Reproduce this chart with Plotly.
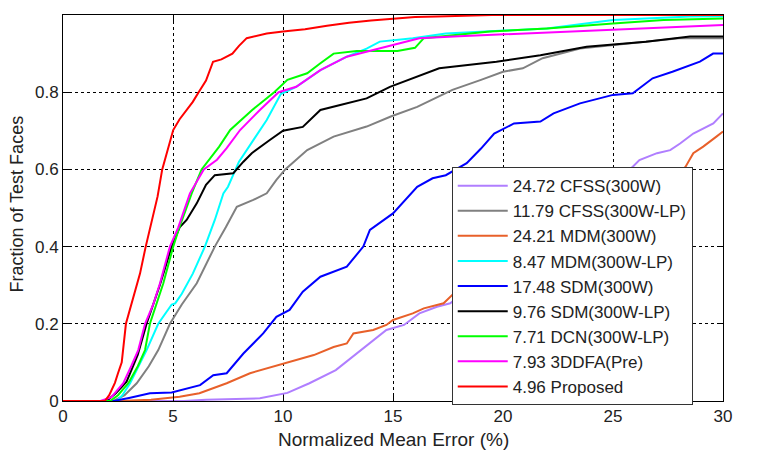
import plotly.graph_objects as go

# CED curves (x = NME %, y = fraction of faces)
cfss_300w_x = [0, 5.5, 6.5, 8.95, 10.2, 11.2, 12.4, 13.35, 13.95, 14.7, 15.5, 16.2, 17.0, 17.6,
               20, 22, 24, 25.9, 26.2, 27.0, 27.6, 28.05, 28.65, 29.56, 30]
cfss_300w_y = [0, 0, 0.003, 0.007, 0.021, 0.046, 0.08, 0.123, 0.149, 0.184, 0.197, 0.227, 0.244, 0.253,
               0.36, 0.45, 0.53, 0.607, 0.624, 0.642, 0.65, 0.667, 0.693, 0.719, 0.745]

cfss_lp_x = [0, 2.3, 2.8, 3.35, 3.9, 4.33, 4.86, 5.4, 6.08, 6.9, 7.4, 7.9, 8.65, 9.26, 9.7, 10.1,
             11.1, 12.3, 13.8, 14.9, 16.1, 17.7, 19.0, 20.0, 20.9, 21.8, 23.5, 25, 26.5, 28, 30]
cfss_lp_y = [0, 0, 0.015, 0.046, 0.09, 0.132, 0.2, 0.25, 0.305, 0.4, 0.45, 0.503, 0.521, 0.538, 0.573, 0.6,
             0.65, 0.685, 0.711, 0.737, 0.762, 0.806, 0.832, 0.853, 0.862, 0.888, 0.913, 0.922, 0.931, 0.94, 0.94]

mdm_300w_x = [0, 2.5, 4.0, 5.3, 6.2, 7.44, 8.5, 9.56, 10.5, 11.4, 12.3, 12.9, 13.2, 14.1, 14.7, 15.0,
              15.9, 16.4, 17.3, 17.7, 20, 22, 24, 26, 27.5, 28.3, 28.65, 29.1, 29.7, 30]
mdm_300w_y = [0, 0, 0.003, 0.011, 0.02, 0.046, 0.072, 0.089, 0.106, 0.119, 0.14, 0.149, 0.175, 0.184, 0.197, 0.21,
              0.227, 0.24, 0.253, 0.275, 0.34, 0.40, 0.46, 0.52, 0.57, 0.607, 0.642, 0.659, 0.685, 0.698]

mdm_lp_x = [0, 2.44, 2.7, 3.05, 3.8, 4.33, 4.94, 5.1, 5.4, 5.9, 6.45, 6.9, 7.29, 7.5, 8.0, 8.35, 9.26,
            9.9, 10.6, 11.7, 12.9, 13.8, 14.4, 15.9, 17.4, 22, 23.8, 25, 28.5, 30]
mdm_lp_y = [0, 0, 0.015, 0.046, 0.132, 0.2, 0.25, 0.253, 0.278, 0.33, 0.4, 0.469, 0.538, 0.555, 0.62, 0.65, 0.728,
            0.795, 0.814, 0.857, 0.892, 0.913, 0.931, 0.94, 0.952, 0.965, 0.978, 0.987, 0.996, 0.997]

sdm_300w_x = [0, 2.3, 3.0, 3.95, 4.94, 5.5, 6.23, 6.83, 7.44, 8.2, 9.1, 9.7, 10.3, 10.9, 11.7, 12.9, 13.65,
              13.95, 14.56, 15.0, 16.1, 16.8, 17.4, 18.35, 19.0, 19.6, 20.5, 21.7, 22.3, 23.5, 25, 25.9,
              26.8, 27.7, 28.95, 29.55, 30]
sdm_300w_y = [0, 0, 0.008, 0.02, 0.022, 0.03, 0.041, 0.067, 0.072, 0.123, 0.175, 0.218, 0.236, 0.283, 0.322, 0.348, 0.4,
              0.443, 0.469, 0.486, 0.555, 0.577, 0.585, 0.616, 0.654, 0.693, 0.719, 0.724, 0.745, 0.771, 0.793, 0.797,
              0.836, 0.853, 0.879, 0.9, 0.9]

sdm_lp_x = [0, 1.98, 2.4, 2.89, 3.4, 3.8, 4.4, 4.94, 5.3, 5.62, 6.08, 6.5, 6.9, 7.74, 8.2, 8.58, 9.4, 10.0,
            10.9, 11.7, 12.6, 13.8, 14.86, 15.9, 17.1, 19.7, 21.7, 23.8, 26.5, 28.5, 30]
sdm_lp_y = [0, 0, 0.02, 0.05, 0.12, 0.2, 0.3, 0.4, 0.45, 0.469, 0.512, 0.56, 0.585, 0.59, 0.62, 0.642, 0.676, 0.70,
            0.71, 0.754, 0.767, 0.784, 0.814, 0.836, 0.862, 0.879, 0.896, 0.918, 0.931, 0.944, 0.944]

dcn_x = [0, 2.14, 2.5, 2.97, 3.4, 3.73, 3.95, 4.56, 5.01, 5.29, 5.85, 6.3, 7.1, 7.6, 8.6, 9.6, 10.2, 11.1,
         11.7, 12.3, 13.35, 15.2, 16.0, 16.4, 19.4, 22, 25, 27.3, 30]
dcn_y = [0, 0, 0.015, 0.046, 0.09, 0.132, 0.2, 0.305, 0.4, 0.45, 0.538, 0.6, 0.659, 0.702, 0.754, 0.80, 0.832, 0.849,
         0.875, 0.9, 0.907, 0.907, 0.915, 0.94, 0.957, 0.965, 0.978, 0.987, 0.991]

ddfa_x = [0, 1.7, 2.2, 2.74, 3.1, 3.42, 3.73, 4.1, 4.41, 4.86, 5.24, 5.77, 6.4, 7.0, 7.44, 8.05, 8.95, 9.8,
          10.6, 11.7, 12.9, 13.8, 15, 16.2, 18, 20, 23.5, 26.5, 30]
ddfa_y = [0, 0, 0.01, 0.046, 0.09, 0.132, 0.2, 0.25, 0.305, 0.4, 0.45, 0.538, 0.6, 0.625, 0.655, 0.702, 0.754, 0.8,
          0.814, 0.857, 0.892, 0.905, 0.922, 0.94, 0.945, 0.95, 0.957, 0.965, 0.974]

proposed_x = [0, 1.9, 2.1, 2.36, 2.5, 2.67, 2.86, 3.2, 3.5, 3.76, 4.03, 4.3, 4.51, 4.8, 5.01, 5.3, 5.55, 5.9,
              6.18, 6.5, 6.82, 7.2, 7.7, 8.0, 8.35, 9.26, 10, 11, 12, 13, 14, 15, 16, 17, 18, 19.5, 25, 30]
proposed_y = [0, 0, 0.015, 0.047, 0.072, 0.1, 0.2, 0.27, 0.33, 0.4, 0.469, 0.53, 0.6, 0.66, 0.702, 0.73, 0.749, 0.775,
              0.801, 0.83, 0.879, 0.885, 0.90, 0.92, 0.94, 0.952, 0.957, 0.963, 0.972, 0.98, 0.986, 0.991, 0.995,
              0.996, 0.997, 1.0, 1.0, 1.0]

series = [
    ("24.72 CFSS(300W)", cfss_300w_x, cfss_300w_y, "#B07EFF"),
    ("11.79 CFSS(300W-LP)", cfss_lp_x, cfss_lp_y, "#808080"),
    ("24.21 MDM(300W)", mdm_300w_x, mdm_300w_y, "#E8602A"),
    ("8.47 MDM(300W-LP)", mdm_lp_x, mdm_lp_y, "#00FFFF"),
    ("17.48 SDM(300W)", sdm_300w_x, sdm_300w_y, "#0000FF"),
    ("9.76 SDM(300W-LP)", sdm_lp_x, sdm_lp_y, "#000000"),
    ("7.71 DCN(300W-LP)", dcn_x, dcn_y, "#00FF00"),
    ("7.93 3DDFA(Pre)", ddfa_x, ddfa_y, "#FF00FF"),
    ("4.96 Proposed", proposed_x, proposed_y, "#FF0000"),
]

font = "Arial, Liberation Sans, sans-serif"
text_color = "#222"

fig = go.Figure()
for name, xs, ys, color in series:
    fig.add_trace(go.Scatter(x=xs, y=ys, mode="lines", name=name,
                             line=dict(color=color, width=2)))

axis_style = dict(
    showline=True, linecolor="black", linewidth=1, mirror="ticks",
    ticks="inside", ticklen=6, tickcolor="black",
    showgrid=True, gridcolor="black", gridwidth=1, griddash="3px,3px",
    zeroline=False, automargin=False,
    tickfont=dict(family=font, size=17, color=text_color),
)

fig.update_xaxes(range=[0, 30], dtick=5, tick0=0, **axis_style)
fig.update_yaxes(range=[0, 1], dtick=0.2, tick0=0, tickformat="~g", **axis_style)

# axis titles as annotations so they sit where the reference has them
fig.add_annotation(text="Normalized Mean Error (%)", xref="paper", yref="paper",
                   x=0.5, y=-0.101, xanchor="center", yanchor="middle", showarrow=False,
                   font=dict(family=font, size=19, color=text_color))
fig.add_annotation(text="Fraction of Test Faces", xref="paper", yref="paper",
                   x=-0.069, y=0.51, xanchor="center", yanchor="middle", showarrow=False,
                   textangle=-90, font=dict(family=font, size=18, color=text_color))

# page body adds an 8px offset, so the figure is sized to fit inside the window
fig.update_layout(
    width=772, height=445,
    margin=dict(l=55, r=57, t=7, b=52),
    plot_bgcolor="white", paper_bgcolor="white",
    font=dict(family=font, color=text_color),
    legend=dict(x=0.589, y=0.606, xanchor="left", yanchor="top",
                bgcolor="white", bordercolor="#333", borderwidth=1,
                font=dict(family=font, size=17, color=text_color),
                itemwidth=50, tracegroupgap=0),
)

fig.write_html("out.html")
